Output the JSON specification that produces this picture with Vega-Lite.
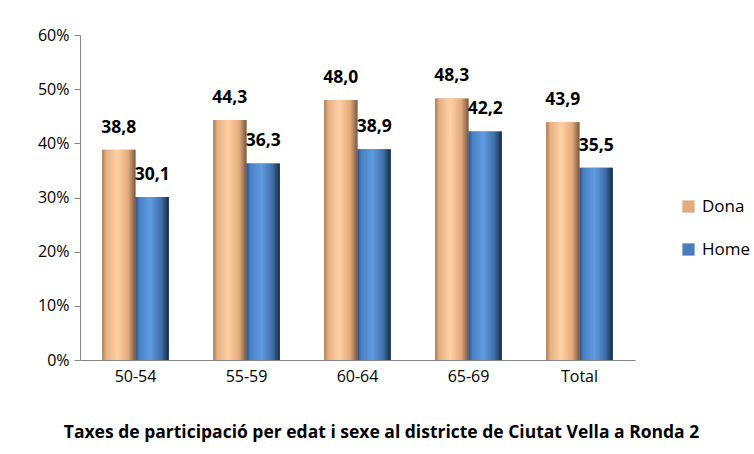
{
  "$schema": "https://vega.github.io/schema/vega-lite/v6.json",
  "width": 555,
  "height": 325,
  "autosize": {"type": "none"},
  "padding": {"left": 80, "top": 35, "right": 119, "bottom": 94},
  "background": "white",
  "config": {
    "view": {"stroke": null},
    "font": "Open Sans",
    "locale": {"number": {"decimal": ",", "thousands": ".", "grouping": [3], "currency": ["", " €"]}}
  },
  "title": {
    "text": "Taxes de participació per edat i sexe al districte de Ciutat Vella a Ronda 2",
    "orient": "bottom",
    "anchor": "middle",
    "frame": "group",
    "dx": 24,
    "offset": 40,
    "fontSize": 17.5,
    "fontWeight": "bold",
    "color": "#000000",
    "font": "Open Sans"
  },
  "data": {
    "values": [
      {"edat": "50-54", "sexe": "Dona", "taxa": 38.8},
      {"edat": "50-54", "sexe": "Home", "taxa": 30.1},
      {"edat": "55-59", "sexe": "Dona", "taxa": 44.3},
      {"edat": "55-59", "sexe": "Home", "taxa": 36.3},
      {"edat": "60-64", "sexe": "Dona", "taxa": 48.0},
      {"edat": "60-64", "sexe": "Home", "taxa": 38.9},
      {"edat": "65-69", "sexe": "Dona", "taxa": 48.3},
      {"edat": "65-69", "sexe": "Home", "taxa": 42.2},
      {"edat": "Total", "sexe": "Dona", "taxa": 43.9},
      {"edat": "Total", "sexe": "Home", "taxa": 35.5}
    ]
  },
  "encoding": {
    "x": {
      "field": "edat",
      "type": "nominal",
      "sort": null,
      "scale": {"paddingInner": 0.4, "paddingOuter": 0.2},
      "axis": {
        "title": null,
        "labelAngle": 0,
        "labelFontSize": 16,
        "labelColor": "#000000",
        "labelPadding": 8,
        "ticks": false,
        "domainColor": "#868686",
        "domainWidth": 1
      }
    },
    "xOffset": {"field": "sexe", "type": "nominal", "scale": {"domain": ["Dona", "Home"]}},
    "y": {
      "field": "taxa",
      "type": "quantitative",
      "scale": {"domain": [0, 60]},
      "axis": {
        "title": null,
        "values": [0, 10, 20, 30, 40, 50, 60],
        "labelExpr": "datum.value + '%'",
        "labelFontSize": 16,
        "labelColor": "#000000",
        "labelPadding": 5,
        "grid": false,
        "domainColor": "#868686",
        "tickColor": "#868686",
        "tickSize": 6
      }
    }
  },
  "layer": [
    {
      "mark": {"type": "bar"},
      "encoding": {
        "color": {
          "field": "sexe",
          "type": "nominal",
          "scale": {"domain": ["Dona", "Home"], "range": ["#E3AC7C", "#4A7EBB"]},
          "legend": {
            "title": null,
            "orient": "none",
            "legendX": 600,
            "legendY": 163,
            "symbolType": "square",
            "symbolSize": 150,
            "labelFontSize": 17,
            "labelColor": "#000000",
            "rowPadding": 25,
            "labelOffset": 5
          }
        }
      }
    },
    {
      "transform": [{"filter": "datum.sexe === 'Dona'"}],
      "mark": {
        "type": "bar",
        "color": {
          "gradient": "linear",
          "x1": 0, "x2": 1, "y1": 0, "y2": 0,
          "stops": [
            {"offset": 0, "color": "#a87c5a"},
            {"offset": 0.12, "color": "#e6b083"},
            {"offset": 0.45, "color": "#ffd0a3"},
            {"offset": 0.78, "color": "#e3ab7c"},
            {"offset": 1, "color": "#7a563c"}
          ]
        }
      }
    },
    {
      "transform": [{"filter": "datum.sexe === 'Home'"}],
      "mark": {
        "type": "bar",
        "color": {
          "gradient": "linear",
          "x1": 0, "x2": 1, "y1": 0, "y2": 0,
          "stops": [
            {"offset": 0, "color": "#2c5383"},
            {"offset": 0.12, "color": "#4a80c4"},
            {"offset": 0.45, "color": "#5f9be0"},
            {"offset": 0.78, "color": "#3f6ea8"},
            {"offset": 1, "color": "#142a45"}
          ]
        }
      }
    },
    {
      "mark": {
        "type": "text",
        "baseline": "alphabetic",
        "dy": -17,
        "fontSize": 17.5,
        "fontWeight": "bold",
        "color": "#000000",
        "font": "Open Sans"
      },
      "encoding": {
        "text": {"field": "taxa", "type": "quantitative", "format": ".1f"}
      }
    }
  ]
}
